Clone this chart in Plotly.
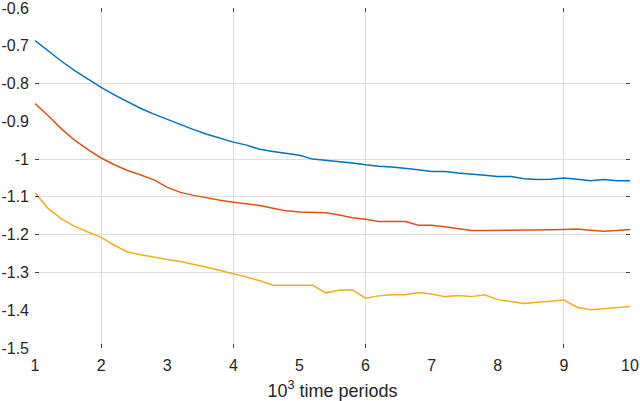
import plotly.graph_objects as go

# time axis, in thousands of periods
x_vals = [1.0, 1.2, 1.4, 1.6, 1.8, 2.0, 2.2, 2.4, 2.6, 2.8,
          3.0, 3.2, 3.4, 3.6, 3.8, 4.0, 4.2, 4.4, 4.6, 4.8,
          5.0, 5.2, 5.4, 5.6, 5.8, 6.0, 6.2, 6.4, 6.6, 6.8,
          7.0, 7.2, 7.4, 7.6, 7.8, 8.0, 8.2, 8.4, 8.6, 8.8,
          9.0, 9.2, 9.4, 9.6, 9.8, 10.0]

blue_vals = [-0.686, -0.714, -0.741, -0.766, -0.789, -0.810, -0.830, -0.849, -0.866, -0.881,
             -0.895, -0.909, -0.922, -0.934, -0.945, -0.955, -0.963, -0.974, -0.980, -0.986,
             -0.990, -1.000, -1.003, -1.006, -1.010, -1.015, -1.019, -1.021, -1.024, -1.028,
             -1.033, -1.033, -1.037, -1.041, -1.043, -1.046, -1.046, -1.052, -1.054, -1.053,
             -1.050, -1.053, -1.057, -1.054, -1.057, -1.057]

red_vals = [-0.853, -0.885, -0.920, -0.950, -0.975, -0.997, -1.015, -1.030, -1.042, -1.055,
            -1.075, -1.088, -1.096, -1.103, -1.109, -1.114, -1.118, -1.123, -1.130, -1.137,
            -1.140, -1.141, -1.142, -1.148, -1.155, -1.159, -1.165, -1.165, -1.165, -1.175,
            -1.175, -1.179, -1.184, -1.189, -1.189, -1.189, -1.189, -1.189, -1.188, -1.187,
            -1.186, -1.185, -1.188, -1.191, -1.189, -1.186]

yellow_vals = [-1.089, -1.131, -1.158, -1.178, -1.193, -1.207, -1.228, -1.246, -1.253, -1.260,
               -1.266, -1.271, -1.278, -1.286, -1.295, -1.303, -1.312, -1.322, -1.334, -1.334,
               -1.334, -1.334, -1.354, -1.347, -1.346, -1.368, -1.362, -1.359, -1.359, -1.353,
               -1.357, -1.364, -1.361, -1.364, -1.359, -1.372, -1.377, -1.382, -1.379, -1.376,
               -1.373, -1.392, -1.399, -1.396, -1.393, -1.390]

x_ticks = [1, 2, 3, 4, 5, 6, 7, 8, 9, 10]
y_ticks = [-0.6, -0.7, -0.8, -0.9, -1.0, -1.1, -1.2, -1.3, -1.4, -1.5]
y_tick_text = ["-0.6", "-0.7", "-0.8", "-0.9", "-1", "-1.1", "-1.2", "-1.3", "-1.4", "-1.5"]

# only some grid lines survive in the original figure
x_grid = [2, 4, 6, 9]
y_grid = [-0.8, -1.0, -1.1, -1.2, -1.3]

tick_font = dict(family="Liberation Sans, Arial, sans-serif", size=16, color="#262626")
title_font = dict(family="Liberation Sans, Arial, sans-serif", size=18, color="#262626")

fig = go.Figure()
fig.add_trace(go.Scatter(x=x_vals, y=blue_vals, mode="lines",
                         line=dict(color="#0072BD", width=1.5)))
fig.add_trace(go.Scatter(x=x_vals, y=red_vals, mode="lines",
                         line=dict(color="#D95319", width=1.5)))
fig.add_trace(go.Scatter(x=x_vals, y=yellow_vals, mode="lines",
                         line=dict(color="#EDB120", width=1.5)))
# empty trace so the label axes (x2/y2) get drawn
fig.add_trace(go.Scatter(x=[], y=[], xaxis="x2", yaxis="y2", hoverinfo="skip"))

fig.update_layout(
    width=640,
    height=401,
    margin=dict(l=35, r=10, t=8, b=53, autoexpand=False),
    paper_bgcolor="white",
    plot_bgcolor="white",
    showlegend=False,
    font=tick_font,
    xaxis=dict(range=[1, 10], tickvals=x_grid, showticklabels=False,
               showgrid=True, gridcolor="#dedede", gridwidth=1,
               ticks="inside", ticklen=4, tickcolor="#404040", tickwidth=1,
               showline=True, linecolor="rgba(0,0,0,0)", mirror="ticks",
               zeroline=False),
    yaxis=dict(range=[-1.5, -0.6], tickvals=y_grid, showticklabels=False,
               showgrid=True, gridcolor="#dedede", gridwidth=1,
               ticks="inside", ticklen=4, tickcolor="#404040", tickwidth=1,
               showline=True, linecolor="rgba(0,0,0,0)", mirror="ticks",
               zeroline=False),
    xaxis2=dict(overlaying="x", anchor="y2", side="bottom", range=[1, 10],
                tickvals=x_ticks, ticks="", showgrid=False, zeroline=False,
                ticklabelstandoff=6, tickfont=tick_font, ticklabeloverflow="allow",
                title=dict(text="10<sup>3</sup> time periods", font=title_font, standoff=12)),
    yaxis2=dict(overlaying="y", anchor="x2", side="left", range=[-1.5, -0.6],
                tickvals=y_ticks, ticktext=y_tick_text, ticks="", showgrid=False,
                zeroline=False, ticklabelstandoff=5, tickfont=tick_font,
                ticklabeloverflow="allow"),
)

fig.write_html("out.html", config={"displayModeBar": False},
               post_script="document.body.style.margin='0';")
